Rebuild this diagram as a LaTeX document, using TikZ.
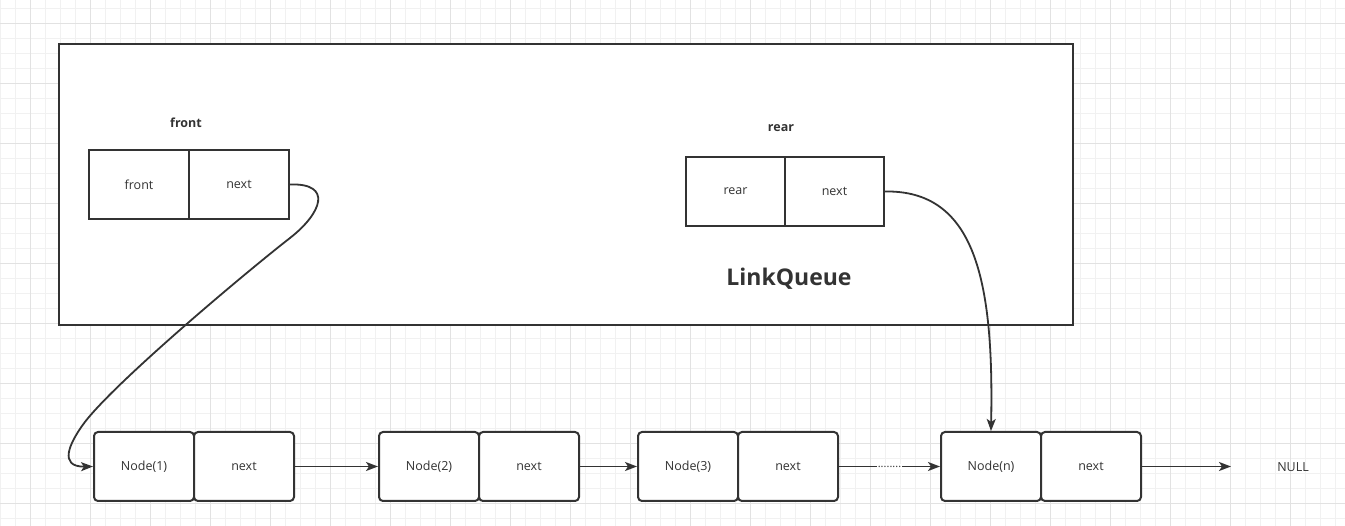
\documentclass[tikz,border=0pt]{standalone}
\usepackage{fontspec}
\setmainfont{Open Sans}
\usetikzlibrary{arrows.meta}
\definecolor{ink}{HTML}{333333}
\definecolor{gridminor}{HTML}{F1F1F1}
\definecolor{gridmajor}{HTML}{E2E2E2}
\begin{document}
\begin{tikzpicture}[x=1pt,y=-1pt,
  gm/.style={draw=gridminor,line width=0.8pt},
  gM/.style={draw=gridmajor,line width=0.9pt},
  qbox/.style={draw=ink,line width=2pt,fill=white,minimum width=1014pt,minimum height=281pt,inner sep=0pt},
  cell/.style={draw=ink,line width=2pt,fill=white,minimum height=69pt,inner sep=0pt,
    text=ink,font=\fontsize{12.5}{15}\selectfont},
  qcell/.style={cell,minimum width=100pt},
  rcell/.style={cell,minimum width=99pt},
  lcell/.style={cell,minimum width=100pt,rounded corners=4pt},
  title/.style={text=ink,font=\bfseries\fontsize{12.5}{15}\selectfont,inner sep=0pt},
  plain/.style={text=ink,font=\fontsize{12.5}{15}\selectfont,inner sep=0pt},
  edge/.style={draw=ink,line width=1.8pt,-{Stealth[length=12pt,width=9pt,inset=3pt]}},
  dots/.style={fill=white,inner sep=0pt,minimum width=25pt,minimum height=5pt,text=ink,font=\fontsize{11}{12}\selectfont}
]
\useasboundingbox (0,0) rectangle (1345,526);
\fill[white] (0,0) rectangle (1345,526);
% grid
\foreach \x in {0,15,...,1345} \draw[gm] (\x,0) -- (\x,526);
\foreach \y in {8,23,...,526} \draw[gm] (0,\y) -- (1345,\y);
\foreach \x in {30,90,...,1345} \draw[gM] (\x,0) -- (\x,526);
\foreach \y in {23,83,...,526} \draw[gM] (0,\y) -- (1345,\y);

% LinkQueue container
\node[qbox] (queue) at (566,184.5) {};
\node[title] (ftitle) at (186,123) {front};
\node[qcell] (fval) at (139,184.5) {front};
\node[qcell] (fnext) at (239,184.5) {next};
\node[title] (rtitle) at (781,128) {rear};
\node[rcell] (rval) at (735.5,191.5) {rear};
\node[rcell] (rnext) at (834.5,191.5) {next};
\node[text=ink,font=\bfseries\fontsize{23}{28}\selectfont,inner sep=0pt] (lqlabel) at (789,279) {LinkQueue};

% list nodes
\node[lcell] (n1) at (144,466.5) {Node(1)};
\node[lcell] (n1next) at (244,466.5) {next};
\node[lcell] (n2) at (429,466.5) {Node(2)};
\node[lcell] (n2next) at (529,466.5) {next};
\node[lcell] (n3) at (688,466.5) {Node(3)};
\node[lcell] (n3next) at (788,466.5) {next};
\node[lcell] (nn) at (991,466.5) {Node(n)};
\node[lcell] (nnnext) at (1091,466.5) {next};
\node[plain] (null) at (1293,467) {NULL};
\coordinate (nullend) at (1231,466.5);

% connectors
\draw[edge] (n1next.east) -- (n2.west);
\draw[edge] (n2next.east) -- (n3.west);
\draw[edge] (n3next.east) -- node[dots] {........} (nn.west);
\draw[edge] (nnnext.east) -- (nullend);

\draw[edge] (fnext.east) .. controls (333,183) and (322,213) .. (290,238)
  .. controls (245,273) and (108,388) .. (82,426)
  .. controls (70,443) and (58,467) .. (n1.west);
\draw[edge] (rnext.east) .. controls (975,190) and (994,280) .. (nn.north);
\end{tikzpicture}
\end{document}
